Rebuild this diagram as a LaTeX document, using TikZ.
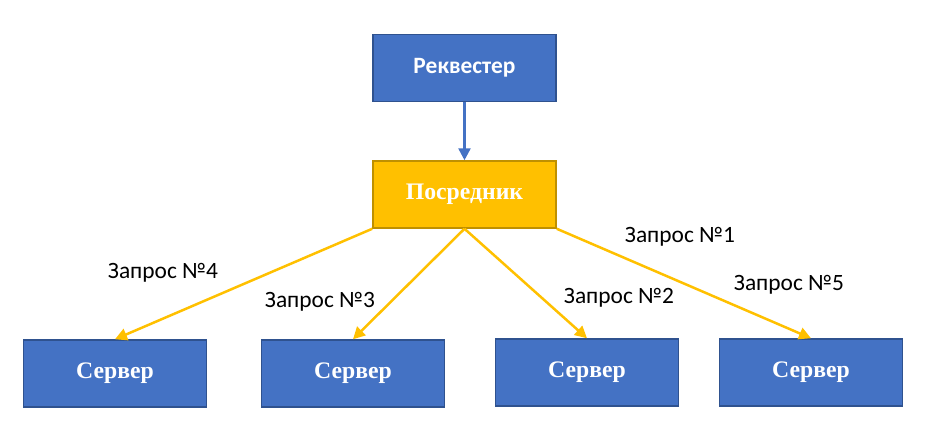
\documentclass[tikz,border=0pt]{standalone}
\usepackage{fontspec}
\setmainfont{Liberation Serif}
\newfontfamily\calibri{Carlito}
\usetikzlibrary{arrows.meta}
\definecolor{boxblue}{HTML}{4472C4}
\definecolor{boxblueline}{HTML}{2F528F}
\definecolor{boxgold}{HTML}{FFC000}
\definecolor{boxgoldline}{HTML}{BF9000}

\begin{document}
\begin{tikzpicture}[x=1pt, y=-1pt,
  box/.style={draw=boxblueline, fill=boxblue, line width=1.5pt, minimum width=183pt, minimum height=67pt, text=white, font=\bfseries\fontsize{23.7}{26}\selectfont},
  proxybox/.style={box, draw=boxgoldline, fill=boxgold},
  req/.style={-{Triangle[length=12pt,width=12pt]}, line width=2.5pt, color=boxgold},
  lbl/.style={font=\calibri\fontsize{23.4}{26}\selectfont}]
\useasboundingbox (0,0) rectangle (931,436);
% Boxes
\node[box, font=\calibri\bfseries\fontsize{23.4}{26}\selectfont] (requester) at (464.5,68) {Реквестер};
\node[proxybox] (proxy) at (464.5,194.5) {Посредник};
\node[box] (server1) at (115,373.5) {Сервер};
\node[box] (server2) at (353,373.5) {Сервер};
\node[box] (server3) at (587,372.5) {Сервер};
\node[box] (server4) at (811,372.5) {Сервер};
% Arrows
\draw[-{Triangle[length=12pt,width=12pt]}, line width=2.5pt, boxblue] (requester) -- (proxy);
\draw[req] (proxy.south west) -- (server1.north);
\draw[req] (proxy.south) -- (server2.north);
\draw[req] (proxy.south) -- (server3.north);
\draw[req] (proxy.south east) -- (server4.north);
% Labels
\node[lbl] (label4) at (163,273) {Запрос №4};
\node[lbl] (label3) at (320,302) {Запрос №3};
\node[lbl] (label2) at (619,298) {Запрос №2};
\node[lbl] (label1) at (680,237) {Запрос №1};
\node[lbl] (label5) at (789,285) {Запрос №5};
\end{tikzpicture}
\end{document}
